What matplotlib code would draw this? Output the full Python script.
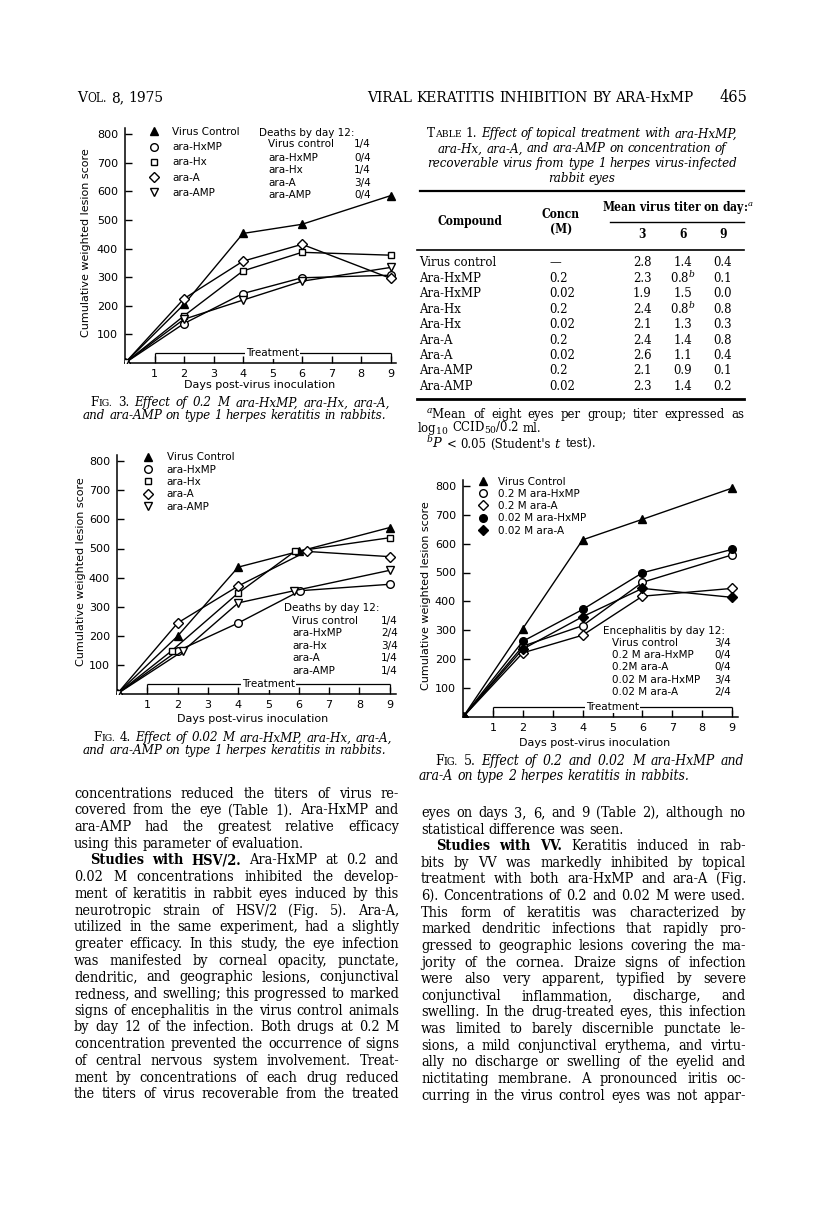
import matplotlib
matplotlib.use("Agg")
import matplotlib.pyplot as plt
from matplotlib.transforms import Affine2D
from matplotlib.lines import Line2D
from matplotlib.font_manager import FontProperties, fontManager

W, H = 816, 1219
SANS = "DejaVu Sans"
SERIF = "DejaVu Serif"
# the condensed cut is closer to the page's typeface; fall back to Liberation Serif
HAS_COND = any(f.name == "DejaVu Serif" and f.stretch == "condensed" for f in fontManager.ttflist)
if not HAS_COND:
    SERIF = "Liberation Serif"
STRETCH = "condensed" if HAS_COND else "normal"
plt.rcParams["mathtext.fontset"] = "dejavuserif" if HAS_COND else "stix"
plt.rcParams["font.family"] = SANS

# ---- data ----
days = [0, 2, 4, 6, 9]
tick_days = [1, 2, 3, 4, 5, 6, 7, 8, 9]
score_ticks = [100, 200, 300, 400, 500, 600, 700, 800]
treatment = (1, 9)

# Fig. 3: 0.2 M, type 1 herpes
f3_labels = ["Virus Control", "ara-HxMP", "ara-Hx", "ara-A", "ara-AMP"]
f3_control = [0, 205, 453, 485, 585]
f3_hxmp = [0, 138, 243, 298, 307]
f3_hx = [0, 165, 322, 387, 377]
f3_a = [0, 225, 356, 415, 296]
f3_amp = [0, 153, 220, 286, 334]
f3_deaths = ["Virus control", "ara-HxMP", "ara-Hx", "ara-A", "ara-AMP"]
f3_deaths_n = ["1/4", "0/4", "1/4", "3/4", "0/4"]

# Fig. 4: 0.02 M, type 1 herpes (points printed slightly staggered)
f4_labels = ["Virus Control", "ara-HxMP", "ara-Hx", "ara-A", "ara-AMP"]
f4_control_x = [0, 2, 4, 6, 9]
f4_control = [0, 199, 436, 490, 572]
f4_hxmp_x = [0, 2, 4, 6.05, 9]
f4_hxmp = [0, 148, 244, 355, 377]
f4_hx_x = [0, 1.8, 4, 5.87, 9]
f4_hx = [0, 148, 347, 490, 537]
f4_a_x = [0, 2, 4, 6.26, 9]
f4_a = [0, 244, 371, 490, 472]
f4_amp_x = [0, 2.18, 4, 5.85, 9]
f4_amp = [0, 148, 313, 355, 425]
f4_deaths = ["Virus control", "ara-HxMP", "ara-Hx", "ara-A", "ara-AMP"]
f4_deaths_n = ["1/4", "2/4", "3/4", "1/4", "1/4"]

# Fig. 5: type 2 herpes
f5_labels = ["Virus Control", "0.2 M ara-HxMP", "0.2 M ara-A", "0.02 M ara-HxMP", "0.02 M ara-A"]
f5_control = [0, 306, 613, 684, 792]
f5_hxmp_02 = [0, 245, 316, 466, 561]
f5_a_02 = [0, 222, 283, 418, 445]
f5_hxmp_002 = [0, 262, 372, 499, 580]
f5_a_002 = [0, 235, 347, 445, 414]
f5_enceph = ["Virus control", "0.2 M ara-HxMP", "0.2M ara-A", "0.02 M ara-HxMP", "0.02 M ara-A"]
f5_enceph_n = ["3/4", "0/4", "0/4", "3/4", "2/4"]

# Table 1
t_compound = ["Virus control", "Ara-HxMP", "Ara-HxMP", "Ara-Hx", "Ara-Hx",
              "Ara-A", "Ara-A", "Ara-AMP", "Ara-AMP"]
t_concn = ["\u2014", "0.2", "0.02", "0.2", "0.02", "0.2", "0.02", "0.2", "0.02"]
t_day3 = ["2.8", "2.3", "1.9", "2.4", "2.1", "2.4", "2.6", "2.1", "2.3"]
t_day6 = ["1.4", "0.8$^b$", "1.5", "0.8$^b$", "1.3", "1.4", "1.1", "0.9", "1.4"]
t_day9 = ["0.4", "0.1", "0.0", "0.8", "0.3", "0.8", "0.4", "0.1", "0.2"]

# ---- text of the page ----
left_col = [
    "concentrations reduced the titers of virus re-",
    "covered from the eye (Table 1). Ara-HxMP and",
    "ara-AMP had the greatest relative efficacy",
    "using this parameter of evaluation.|",
    ">**Studies with HSV/2.** Ara-HxMP at 0.2 and",
    "0.02 M concentrations inhibited the develop-",
    "ment of keratitis in rabbit eyes induced by this",
    "neurotropic strain of HSV/2 (Fig. 5). Ara-A,",
    "utilized in the same experiment, had a slightly",
    "greater efficacy. In this study, the eye infection",
    "was manifested by corneal opacity, punctate,",
    "dendritic, and geographic lesions, conjunctival",
    "redness, and swelling; this progressed to marked",
    "signs of encephalitis in the virus control animals",
    "by day 12 of the infection. Both drugs at 0.2 M",
    "concentration prevented the occurrence of signs",
    "of central nervous system involvement. Treat-",
    "ment by concentrations of each drug reduced",
    "the titers of virus recoverable from the treated",
]
right_col = [
    "eyes on days 3, 6, and 9 (Table 2), although no",
    "statistical difference was seen.|",
    ">**Studies with VV.** Keratitis induced in rab-",
    "bits by VV was markedly inhibited by topical",
    "treatment with both ara-HxMP and ara-A (Fig.",
    "6). Concentrations of 0.2 and 0.02 M were used.",
    "This form of keratitis was characterized by",
    "marked dendritic infections that rapidly pro-",
    "gressed to geographic lesions covering the ma-",
    "jority of the cornea. Draize signs of infection",
    "were also very apparent, typified by severe",
    "conjunctival inflammation, discharge, and",
    "swelling. In the drug-treated eyes, this infection",
    "was limited to barely discernible punctate le-",
    "sions, a mild conjunctival erythema, and virtu-",
    "ally no discharge or swelling of the eyelid and",
    "nictitating membrane. A pronounced iritis oc-",
    "curring in the virus control eyes was not appar-",
]
cap3 = [">%Fig. ~3. Effect of 0.2 M ara-HxMP, ara-Hx, ara-A,",
        "and ara-AMP on type 1 herpes keratitis in rabbits.|"]
cap4 = [">%Fig. ~4. Effect of 0.02 M ara-HxMP, ara-Hx, ara-A,",
        "and ara-AMP on type 1 herpes keratitis in rabbits.|"]
cap5 = [">%Fig. ~5. Effect of 0.2 and 0.02 M ara-HxMP and",
        "ara-A on type 2 herpes keratitis in rabbits.|"]
table_cap = ["%Table ~1. Effect of topical treatment with ara-HxMP,",
             "ara-Hx, ara-A, and ara-AMP on concentration of",
             "recoverable virus from type 1 herpes virus-infected",
             "rabbit eyes"]
notes = [">$^a$Mean of eight eyes per group; titer expressed as",
         "log$_{10}$ CCID$_{50}$/0.2 ml.|",
         ">$^b$$P$ < 0.05 (Student's $t$ test).|"]

fig = plt.figure(figsize=(W / 100, H / 100), dpi=100)
fig.patch.set_facecolor("white")
PX = Affine2D().scale(1 / W, -1 / H).translate(0, 1) + fig.transFigure
renderer = fig.canvas.get_renderer()


def measure(s, prop):
    w, h, d = renderer.get_text_width_height_descent(s, prop, ismath="$" in s)
    return w


def mkprop(kind, size, italic):
    if kind == "b":
        return FontProperties(family=SERIF, weight="bold", size=size, stretch=STRETCH)
    if kind in ("sc", "r"):
        return FontProperties(family=SERIF, size=size, stretch=STRETCH)
    return FontProperties(family=SERIF, style="italic" if italic else "normal", size=size,
                          stretch=STRETCH)


def tokens_of(line):
    out = []
    bold = False
    for w in line.split():
        if w.startswith("**"):
            bold = True
            w = w[2:]
        end_bold = w.endswith("**")
        if end_bold:
            w = w[:-2]
        kind = "n"
        if bold:
            kind = "b"
        elif w.startswith("%"):
            kind, w = "sc", w[1:]
        elif w.startswith("~"):
            kind, w = "r", w[1:]
        out.append((w, kind))
        if end_bold:
            bold = False
    return out


def tok_width(tok, size, italic):
    w, kind = tok
    if kind == "sc":
        return (measure(w[0], mkprop("r", size, italic))
                + measure(w[1:].upper(), mkprop("r", size * 0.78, italic)))
    return measure(w, mkprop(kind, size, italic))


def draw_tok(x, y, tok, size, italic):
    w, kind = tok
    if kind == "sc":
        p1 = mkprop("r", size, italic)
        p2 = mkprop("r", size * 0.78, italic)
        fig.text(x, y, w[0], transform=PX, fontproperties=p1, va="baseline")
        fig.text(x + measure(w[0], p1), y, w[1:].upper(), transform=PX,
                 fontproperties=p2, va="baseline")
    else:
        fig.text(x, y, w, transform=PX, fontproperties=mkprop(kind, size, italic),
                 va="baseline")


def space_w(size, italic):
    p = mkprop("n", size, italic)
    return measure("x x", p) - measure("xx", p)


def split_line(raw, indent):
    last = raw.endswith("|")
    raw = raw.rstrip("|")
    ind = indent if raw.startswith(">") else 0
    return tokens_of(raw.lstrip(">")), last, ind


def fit_lines(lines, x0, x1, base, italic=False, indent=0, squeeze=0.65):
    worst = 0
    sp = space_w(base, italic)
    for raw in lines:
        toks, last, ind = split_line(raw, indent)
        ws = sum(tok_width(t, base, italic) for t in toks)
        sq = 1.0 if last else squeeze
        worst = max(worst, (ws + sq * sp * (len(toks) - 1)) / (x1 - x0 - ind))
    return base / max(worst, 1.0)


def draw_lines(lines, x0, x1, ys, size, italic=False, indent=0, center=None):
    sp = space_w(size, italic)
    off = 0.25 * size * 100 / 72
    for raw, yc in zip(lines, ys):
        toks, last, ind = split_line(raw, indent)
        ws = [tok_width(t, size, italic) for t in toks]
        if center is not None:
            gap = sp
            x = center - (sum(ws) + sp * (len(ws) - 1)) / 2
        elif not last and len(ws) > 1:
            gap = (x1 - x0 - ind - sum(ws)) / (len(ws) - 1)
            x = x0 + ind
        else:
            gap = sp
            x = x0 + ind
        for t, w in zip(toks, ws):
            draw_tok(x, yc + off, t, size, italic)
            x += w + gap


def rule(x0, x1, y, lw):
    fig.add_artist(Line2D([x0, x1], [y, y], transform=PX, color="black", lw=lw))


# ---- page header ----
hsize = 10 * 330 / measure("VIRAL KERATITIS INHIBITION BY ARA-HxMP", mkprop("r", 10, False))
draw_lines(["%Vol. ~8, ~1975|"], 77, 200, [98], hsize)
draw_lines(["~VIRAL ~KERATITIS ~INHIBITION ~BY ~ARA-HxMP|"], 367, 700, [98], hsize)
fig.text(747, 98 + 0.25 * hsize * 1.05 * 100 / 72, "465", transform=PX, ha="right",
         va="baseline", fontproperties=mkprop("r", hsize * 1.05, False))

# ---- body text ----
bsize = min(fit_lines(left_col, 74, 399, 10.4, indent=16, squeeze=0.5),
            fit_lines(right_col, 421, 746, 10.4, indent=15, squeeze=0.5))
draw_lines(left_col, 74, 399, [794 + 16.7 * i for i in range(len(left_col))], bsize, indent=16)
draw_lines(right_col, 421, 746, [813.3 + 16.63 * i for i in range(len(right_col))], bsize, indent=15)

# ---- figure captions ----
csize = min(fit_lines(cap3, 83, 390, 9.6, True, 7), fit_lines(cap4, 83, 392, 9.6, True, 10))
draw_lines(cap3, 83, 390, [403, 416], csize, True, 7)
draw_lines(cap4, 83, 392, [738, 751], csize, True, 10)
c5 = min(fit_lines(cap5, 419, 744, 10.4, True, 16),
         10.4 * 264 / (sum(tok_width(t, 10.4, True) for t in tokens_of(cap5[1][:-1]))
                       + 6 * space_w(10.4, True)))
draw_lines(cap5, 419, 744, [762, 777], c5, True, 16)

# ---- Table 1 ----
tcs = 10 * 312 / measure("recoverable virus from type 1 herpes virus-infected", mkprop("n", 10, True))
draw_lines(table_cap, 0, 0, [134, 149, 164, 179], tcs, True, center=582)
rule(420, 744, 191, 1.6)
tsize = 10 * 77 / measure("Virus control", mkprop("n", 10, False))
tprop = mkprop("n", tsize, False)
tbold = mkprop("b", tsize * 0.92, False)
fig.text(470, 221, "Compound", transform=PX, ha="center", va="center", fontproperties=tbold)
fig.text(561, 215, "Concn", transform=PX, ha="center", va="center", fontproperties=tbold)
fig.text(561, 229, "(M)", transform=PX, ha="center", va="center", fontproperties=tbold)
fig.text(678, 207, "Mean virus titer on day:$^a$", transform=PX, ha="center", va="center",
         fontproperties=tbold)
rule(610, 744, 222, 1.0)
day_x = [642, 683, 723]
for x, d in zip(day_x, ["3", "6", "9"]):
    fig.text(x, 235, d, transform=PX, ha="center", va="center", fontproperties=tbold)
rule(417, 744, 250, 1.2)
for i in range(len(t_compound)):
    y = 263 + 15.4 * i
    fig.text(419, y, t_compound[i], transform=PX, va="center", fontproperties=tprop)
    fig.text(549, y, t_concn[i], transform=PX, va="center", fontproperties=tprop)
    for x, col in zip(day_x, (t_day3, t_day6, t_day9)):
        fig.text(x, y, col[i], transform=PX, ha="center", va="center", fontproperties=tprop)
rule(417, 744, 399, 2.0)
nsize = min(tsize, fit_lines(notes, 417, 744, tsize, indent=9))
draw_lines(notes, 417, 744, [415, 429, 445], nsize, indent=9)

# ---- the three charts ----
XMAX, YMAX = 9.2, 820
LEG = FontProperties(family=SANS, size=7.5)
FS_PX = 7.5 * 100 / 72
LINE = dict(color="black", lw=1.0, mec="black", mew=1.0, zorder=3)


def make_chart(x0, y0, dpx, upx, ylab_dx, xlab_day, xlab_dy):
    ax = fig.add_axes([x0 / W, 1 - y0 / H, dpx * XMAX / W, upx * YMAX / 100 / H])
    ax.set_xlim(0, XMAX)
    ax.set_ylim(0, YMAX)
    for s in ("top", "right"):
        ax.spines[s].set_visible(False)
    for s in ("left", "bottom"):
        ax.spines[s].set_linewidth(1.1)
    ax.set_xticks(tick_days)
    ax.set_yticks(score_ticks)
    ax.tick_params(axis="x", direction="in", length=5, width=1, pad=4, labelsize=8)
    ax.tick_params(axis="y", direction="in", length=5, width=1, pad=5, labelsize=8)
    ax.set_ylabel("Cumulative weighted lesion score", fontsize=8)
    ax.set_xlabel("Days post-virus inoculation", fontsize=8)
    ax.yaxis.label.set_va("center")
    ax.xaxis.label.set_va("center")
    ax.yaxis.set_label_coords(ylab_dx / (dpx * XMAX), 420 / YMAX)
    ax.xaxis.set_label_coords(xlab_day / XMAX, -xlab_dy / (upx * YMAX / 100))
    ax.hlines(35, treatment[0], treatment[1], color="black", lw=0.9)
    ax.vlines(treatment, 12, 35, color="black", lw=0.9)
    ax.text(sum(treatment) / 2, 35, "Treatment", ha="center", va="center", fontsize=7.5,
            bbox=dict(fc="white", ec="none", pad=0.6))
    return ax


def series(ax, x, y, marker, filled, ms=5.5):
    ax.plot(x, y, marker=marker, ms=ms, mfc="black" if filled else "white", **LINE)
    return Line2D([], [], ls="none", marker=marker, ms=ms, color="black",
                  mfc="black" if filled else "white", mec="black", mew=1.0)


def legend(ax, handles, labels, mx, tx, y_first, pitch):
    ax.legend(handles, labels, loc="upper left", bbox_to_anchor=(mx - 0.5 * FS_PX, y_first - 6),
              bbox_transform=PX, frameon=False, borderpad=0, borderaxespad=0,
              handlelength=1.0, handletextpad=(tx - mx - 0.5 * FS_PX) / FS_PX,
              labelspacing=(pitch - 12.1) / FS_PX, prop=LEG)


def tally(title, names, counts, tx, nx, vx, ty, ys):
    fig.text(tx, ty, title, transform=PX, va="center", fontproperties=LEG)
    for n, c, y in zip(names, counts, ys):
        fig.text(nx, y, n, transform=PX, va="center", fontproperties=LEG)
        fig.text(vx, y, c, transform=PX, ha="right", va="center", fontproperties=LEG)


# Fig. 3
ax3 = make_chart(125, 363, 29.5, 28.6, -39, 4.58, 22)
h3 = [series(ax3, days, f3_control, "^", True),
      series(ax3, days, f3_hxmp, "o", False),
      series(ax3, days, f3_hx, "s", False, 5),
      series(ax3, days, f3_a, "D", False),
      series(ax3, days, f3_amp, "v", False)]
legend(ax3, h3, f3_labels, 154, 172, 133, 17.3)
tally("Deaths by day 12:", f3_deaths, f3_deaths_n, 259, 268, 371, 133,
      [144.3, 157.7, 170, 182.7, 195])

# Fig. 4
ax4 = make_chart(117, 694, 30.3, 29.1, -36, 4.49, 25)
h4 = [series(ax4, f4_control_x, f4_control, "^", True),
      series(ax4, f4_hxmp_x, f4_hxmp, "o", False),
      series(ax4, f4_hx_x, f4_hx, "s", False, 5),
      series(ax4, f4_a_x, f4_a, "D", False),
      series(ax4, f4_amp_x, f4_amp, "v", False)]
legend(ax4, h4, f4_labels, 148.3, 166.7, 458.3, 14.4)
tally("Deaths by day 12:", f4_deaths, f4_deaths_n, 284, 292, 398, 608.3,
      [621, 633.3, 645.7, 658.3, 670.7])

# Fig. 5
ax5 = make_chart(463, 717, 29.9, 28.9, -37, 4.41, 26)
h5 = [series(ax5, days, f5_control, "^", True),
      series(ax5, days, f5_hxmp_02, "o", False),
      series(ax5, days, f5_a_02, "D", False),
      series(ax5, days, f5_hxmp_002, "o", True),
      series(ax5, days, f5_a_002, "D", True)]
legend(ax5, h5, f5_labels, 483.3, 498.3, 482.7, 14.3)
tally("Encephalitis by day 12:", f5_enceph, f5_enceph_n, 603.3, 611.7, 730.7, 630.7,
      [643.3, 655, 667.3, 680, 692.3])

fig.savefig("out.png", dpi=100, facecolor="white")
